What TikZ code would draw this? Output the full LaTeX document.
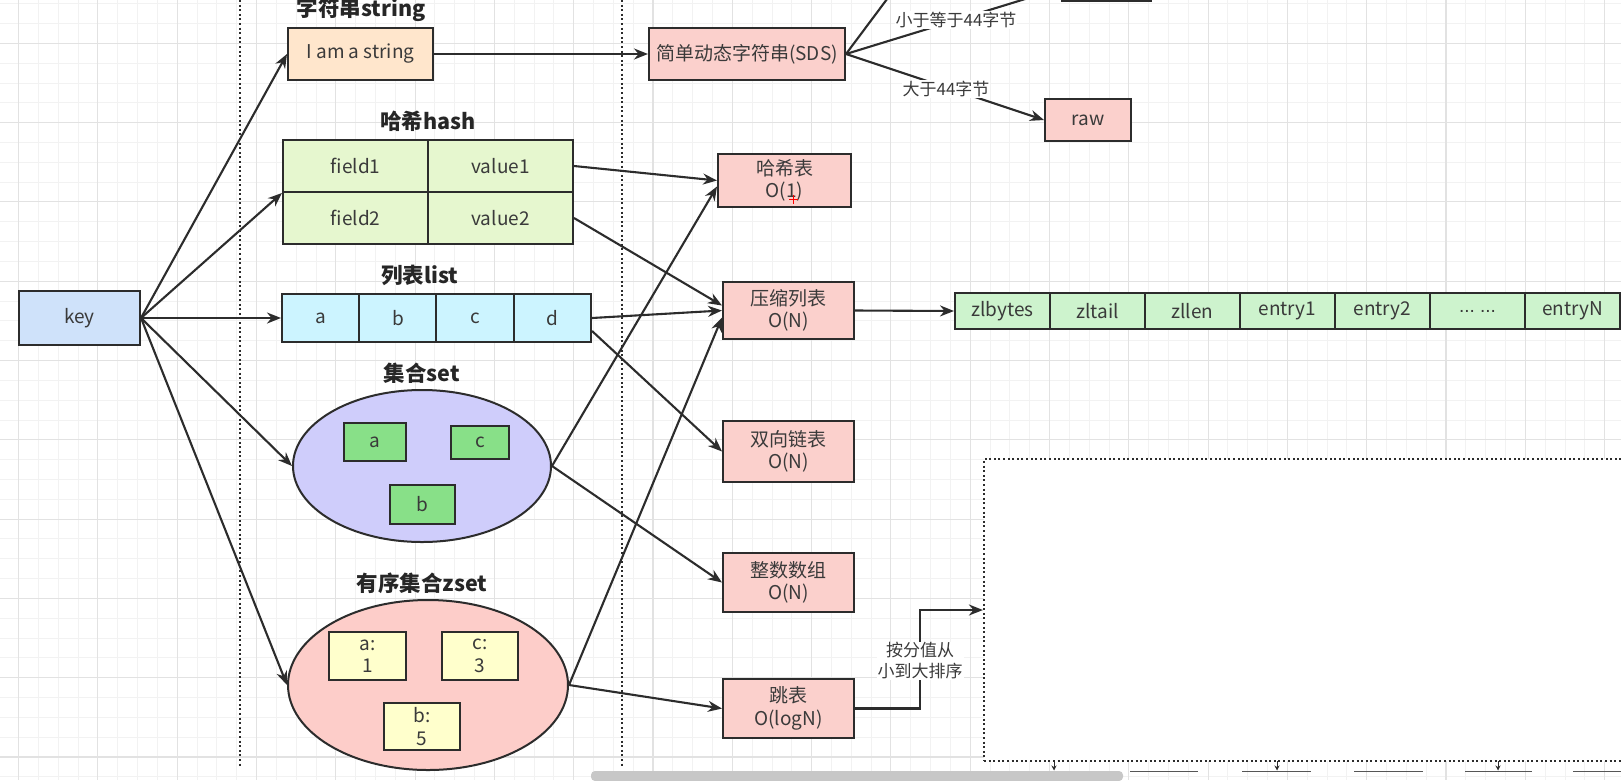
\documentclass[tikz,border=0pt]{standalone}
\usepackage{fontspec}
\setmainfont{Noto Sans CJK SC}
\newfontfamily\dotsfont{Liberation Sans}
\usetikzlibrary{arrows.meta,shapes.geometric,calc}
\definecolor{ink}{HTML}{2C2C2C}
\definecolor{txt}{HTML}{3A3A3A}
\definecolor{keyc}{HTML}{CFE2FA}
\definecolor{strc}{HTML}{FFE6CC}
\definecolor{hashc}{HTML}{E6F7CF}
\definecolor{listc}{HTML}{CCF4FF}
\definecolor{setc}{HTML}{CFCDFB}
\definecolor{setin}{HTML}{88E088}
\definecolor{zsetc}{HTML}{FDCDC9}
\definecolor{zsetin}{HTML}{FFFFCC}
\definecolor{pinkc}{HTML}{FBD0CC}
\definecolor{zlc}{HTML}{CDF3CD}
\definecolor{gridmin}{HTML}{F2F2F2}
\definecolor{gridmaj}{HTML}{E2E2E2}
\newcommand\zlmoredots{{\dotsfont .\kern0pt.\kern0pt.\ .\kern0pt.\kern0pt.}}
\begin{document}
\begin{tikzpicture}[x=1pt,y=-1pt,
  box/.style={draw=ink, line width=2pt, inner sep=0pt, text=txt, align=center,
    font=\fontsize{19}{22.5}\selectfont},
  pinkbox/.style={box, fill=pinkc},
  cell/.style={box, fill=#1},
  title/.style={font=\fontsize{21.5}{25}\selectfont\bfseries, text=black!85, inner sep=0pt},
  arr/.style={draw=ink, line width=2.1pt, -{Stealth[length=14pt,width=11pt]}},
  lab/.style={fill=white, font=\fontsize{17}{21}\selectfont, text=txt, inner sep=1pt, align=center},
  dotline/.style={draw=ink, line width=2.2pt, dash pattern=on 2pt off 2.6pt}
]
\useasboundingbox (0,0) rectangle (1621,780);
\clip (0,0) rectangle (1621,780);
\fill[white] (0,0) rectangle (1621,780);
% grid
\foreach \i in {-1,...,82}{
  \pgfmathsetmacro\xx{18.6+19.825*\i}
  \draw[gridmin, line width=0.9pt] (\xx,0) -- (\xx,780);}
\foreach \i in {0,...,41}{
  \pgfmathsetmacro\yy{-36+19.825*\i}
  \draw[gridmin, line width=0.9pt] (0,\yy) -- (1621,\yy);}
\foreach \i in {0,...,20}{
  \pgfmathsetmacro\xx{18.6+79.3*\i}
  \draw[gridmaj, line width=1.1pt] (\xx,0) -- (\xx,780);}
\foreach \i in {0,...,10}{
  \pgfmathsetmacro\yy{-36+79.3*\i}
  \draw[gridmaj, line width=1.1pt] (0,\yy) -- (1621,\yy);}

% dotted column separators
\draw[dotline] (240,0) -- (240,767);
\draw[dotline] (622,0) -- (622,767);

% dotted box (right bottom)
\node[draw=ink, line width=2.2pt, dash pattern=on 2pt off 2.6pt, fill=white,
  minimum width=676, minimum height=302, inner sep=0pt] (dbox) at (1322,610) {};

% key
\node[cell=keyc, minimum width=121, minimum height=54] (key) at (79.5,318) {key};

% string
\node[title] (tstr) at (361,10) {字符串string};
\node[cell=strc, minimum width=145, minimum height=52] (str) at (360.5,54) {I am a string};

% hash
\node[title] (thash) at (428,121) {哈希hash};
\node[cell=hashc, minimum width=145, minimum height=52] (f1) at (355.5,166) {field1};
\node[cell=hashc, minimum width=145, minimum height=52] (v1) at (500.5,166) {value1};
\node[cell=hashc, minimum width=145, minimum height=52] (f2) at (355.5,218) {field2};
\node[cell=hashc, minimum width=145, minimum height=52] (v2) at (500.5,218) {value2};

% list
\node[title] (tlist) at (420,275) {列表list};
\node[cell=listc, minimum width=77.25, minimum height=48] (la) at (320.6,318) {a};
\node[cell=listc, minimum width=77.25, minimum height=48] (lb) at (397.9,318) {b};
\node[cell=listc, minimum width=77.25, minimum height=48] (lc) at (475.1,318) {c};
\node[cell=listc, minimum width=77.25, minimum height=48] (ld) at (552.4,318) {d};

% set
\node[title] (tset) at (422,373) {集合set};
\node[ellipse, draw=ink, line width=2pt, fill=setc, minimum width=258, minimum height=152, inner sep=0pt] (set) at (422,466) {};
\node[cell=setin, minimum width=62, minimum height=38] (sa) at (375,442) {a};
\node[cell=setin, minimum width=58, minimum height=33] (sc) at (480,442.5) {c};
\node[cell=setin, minimum width=65, minimum height=39] (sb) at (422.5,504.5) {b};

% zset
\node[title] (tzset) at (422,583) {有序集合zset};
\node[ellipse, draw=ink, line width=2pt, fill=zsetc, minimum width=280, minimum height=170, inner sep=0pt] (zset) at (428,685) {};
\node[cell=zsetin, minimum width=77, minimum height=48] (za) at (367.5,656) {a:\\1};
\node[cell=zsetin, minimum width=76, minimum height=48] (zc) at (480,656) {c:\\3};
\node[cell=zsetin, minimum width=76, minimum height=47] (zb) at (422,726.5) {b:\\5};

% middle column
\node[pinkbox, minimum width=196, minimum height=52] (sds) at (747,54) {简单动态字符串(SDS)};
\node[pinkbox, minimum width=133, minimum height=53] (ht) at (784.5,180.5) {哈希表\\O(1)};
\node[pinkbox, minimum width=131, minimum height=57] (zip) at (788.5,310.5) {压缩列表\\O(N)};
\node[pinkbox, minimum width=131, minimum height=61] (dl) at (788.5,451.5) {双向链表\\O(N)};
\node[pinkbox, minimum width=131, minimum height=59] (ia) at (788.5,582.5) {整数数组\\O(N)};
\node[pinkbox, minimum width=131, minimum height=59] (skip) at (788.5,708.5) {跳表\\O(logN)};

% right
\node[pinkbox, minimum width=86, minimum height=42] (raw) at (1088,120) {raw};
\node[pinkbox, minimum width=89, minimum height=26] (embstr) at (1106.5,-12) {};
\coordinate (upper) at (905,-25);

% ziplist layout
\foreach \t [count=\k from 0] in {zlbytes,zltail,zllen,entry1,entry2,\zlmoredots,entryN}{
  \node[cell=zlc, minimum width=95, minimum height=36] (zl\k) at ({1002.5+95*\k},311) {\t};}

% connectors from key
\draw[arr] (key.east) -- (str.west);
\draw[arr] (key.east) -- (f1.south west);
\draw[arr] (key.east) -- (la.west);
\draw[arr] (key.east) -- (set.west);
\draw[arr] (key.east) -- (zset.west);

% to encodings
\draw[arr] (str.east) -- (sds.west);
\draw[arr] (v1.east) -- (ht.west);
\draw[arr] (v2.east) -- ($(zip.west)+(0,-5)$);
\draw[arr] (ld.east) -- (zip.west);
\draw[arr] ($(ld.east)+(0,13)$) -- (dl.west);
\draw[arr] (set.east) -- ($(ht.west)+(0,6)$);
\draw[arr] (set.east) -- (ia.west);
\draw[arr] (zset.east) -- ($(zip.west)+(0,7)$);
\draw[arr] (zset.east) -- (skip.west);
\draw[arr] (zip.east) -- (zl0.west);

% SDS branches
\draw[arr] (sds.east) -- (upper);
\draw[arr] (sds.east) -- (embstr.west);
\draw[arr] (sds.east) -- (raw.west);
\node[lab] (lsmall) at (956,20) {小于等于44字节};
\node[lab] (lbig) at (946,89) {大于44字节};

% skiplist to sorted box
\coordinate (bend) at (920,708.5);
\draw[arr] (skip.east) -- (bend) |- (dbox.west);
\node[lab] (lsort) at (920,661) {按分值从\\小到大排序};

% tops of boxes below the dotted box
\foreach \a/\b in {1019/1088,1130/1198,1242/1311,1354/1423,1465/1532,1573/1640}{
  \draw[ink!80, line width=1pt] (\a,771) -- (\b,771);}
\foreach \x in {1054,1277,1498}{
  \draw[ink, line width=1pt, -{Stealth[length=5pt,width=5pt]}] (\x,761) -- (\x,770.5);}

% cursor and scrollbar
\draw[red, line width=1pt] (789,199) -- (798,199) (793.5,194.5) -- (793.5,203.5);
\fill[black!22, rounded corners=4pt] (591,771) rectangle (1123,781);
\end{tikzpicture}
\end{document}
